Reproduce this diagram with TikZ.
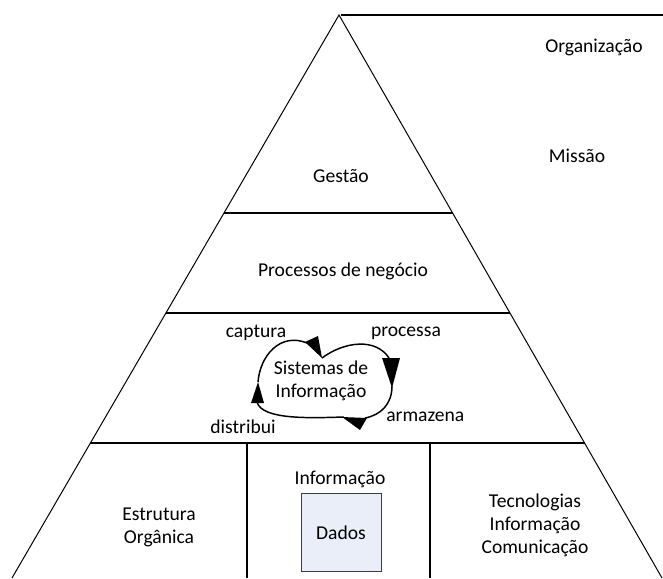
\documentclass[tikz,border=0pt]{standalone}
\usepackage{fontspec}
\setmainfont{Carlito}
\usetikzlibrary{calc}
\definecolor{boxfill}{HTML}{E9EEF8}
\definecolor{boxline}{HTML}{3C3C3C}
\begin{document}
\begin{tikzpicture}[x=0.75pt,y=-0.75pt,
  lbl/.style={inner sep=0pt, font=\fontsize{14.7}{17.25}\selectfont, align=center},
  side/.style={line width=0.75pt, line join=miter},
  divider/.style={line width=1.4pt},
  topline/.style={line width=1.1pt},
  cycleline/.style={line width=1.1pt},
  head/.style={fill=black}]
\useasboundingbox (0,0) rectangle (663,578);

% pyramid outline
\coordinate (apex) at (339,15);
\coordinate (bl) at (12,578);
\coordinate (br) at (662,578);
\draw[side] (bl) -- (apex) -- (br);
\draw[topline] (341,15) -- (663,15);

% horizontal layers
\draw[divider] ($(apex)!0.3517!(bl)$) -- ($(apex)!0.3517!(br)$);
\draw[divider] ($(apex)!0.5293!(bl)$) -- ($(apex)!0.5293!(br)$);
\draw[divider] ($(apex)!0.7602!(bl)$) -- ($(apex)!0.7602!(br)$);

% base columns
\draw[divider] (247,443) -- (247,578);
\draw[divider] (430,443) -- (430,578);

% labels
\node[lbl] (org) at (594,47) {Organização};
\node[lbl] (missao) at (577,156) {Missão};
\node[lbl] (gestao) at (341,176) {Gestão};
\node[lbl] (proc) at (343,271) {Processos de negócio};
\node[lbl] (si) at (321,381) {Sistemas de\\Informação};
\node[lbl] (captura) at (256,333) {captura};
\node[lbl] (processa) at (406,333) {processa};
\node[lbl, anchor=west] (armazena) at (386,417) {armazena};
\node[lbl] (distribui) at (243,427) {distribui};
\node[lbl] (estrutura) at (159,527) {Estrutura\\Orgânica};
\node[lbl] (informacao) at (340,479) {Informação};
\node[lbl] (tic) at (535,525) {Tecnologias\\Informação\\Comunicação};
\node[draw=boxline, fill=boxfill, line width=0.6pt, minimum width=60pt,
      minimum height=59pt, lbl] (dados) at (341,532.5) {Dados};

% information cycle
\draw[cycleline] (258,382) .. controls (260,356) and (280,332) .. (307,343);
\fill[head] (305,342) -- (318,336) -- (322,358) -- cycle;
\draw[cycleline] (322,358) .. controls (345,341) and (376,338) .. (389,358);
\fill[head] (382,358) -- (400,358) -- (392,388) -- cycle;
\draw[cycleline] (392,386) .. controls (392,404) and (381,415) .. (365,418);
\fill[head] (342,417) -- (367,418) -- (360,430) -- cycle;
\draw[cycleline] (344,417) .. controls (310,418) and (262,420) .. (257,402);
\fill[head] (251,403) -- (264,403) -- (258,382) -- cycle;
\end{tikzpicture}
\end{document}
